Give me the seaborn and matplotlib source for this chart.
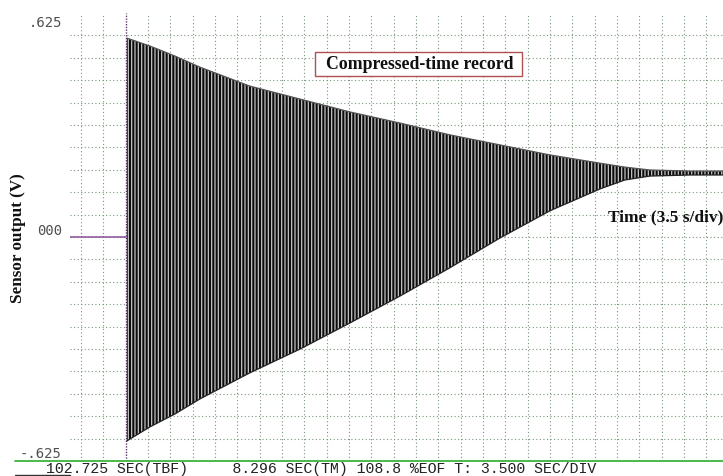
import matplotlib
matplotlib.use("Agg")
import matplotlib.pyplot as plt
from matplotlib.lines import Line2D
from matplotlib.patches import Rectangle
import numpy as np
import pandas as pd
import seaborn as sns

# Scope settings
SEC_PER_DIV = 3.5
VOLT_FULL = 0.625
VOLT_PER_DIV = 0.0625

# Envelope of the decaying oscillation (seconds after trigger, volts)
time_s = [0.16, 3.76, 7.68, 11.60, 19.44, 27.27, 35.11, 42.95, 50.78,
          58.62, 66.46, 74.30, 78.21, 82.13, 88.40, 93.57]
upper_v = [0.555, 0.533, 0.505, 0.474, 0.421, 0.385, 0.349, 0.318, 0.285,
           0.257, 0.229, 0.206, 0.195, 0.187, 0.184, 0.184]
lower_v = [-0.569, -0.530, -0.494, -0.452, -0.379, -0.313, -0.240, -0.165, -0.086,
           -0.003, 0.073, 0.134, 0.159, 0.170, 0.173, 0.173]

y_tick_labels = [".625", "000", "-.625"]
status_line = "102.725 SEC(TBF)     8.296 SEC(TM) 108.8 %EOF T: 3.500 SEC/DIV"

sns.set_style("white")
plt.rcParams["hatch.linewidth"] = 0.9

W, H = 723, 477
fig = plt.figure(figsize=(W / 100, H / 100), dpi=100)
ax = fig.add_axes([70 / W, 15 / H, 653 / W, 448 / H])

x_left = -2.5 * SEC_PER_DIV
x_right = x_left + 653 / 22.33 * SEC_PER_DIV
ax.set_xlim(x_left, x_right)
ax.set_ylim(-VOLT_FULL, VOLT_FULL)
ax.set_axis_off()

# dotted graticule
grid_kw = dict(color="#7a967a", lw=0.8, ls=(0, (1, 2.2)), zorder=1)
for k in range(-2, 27):
    if k != 0:
        ax.axvline(k * SEC_PER_DIV, **grid_kw)
for k in range(-9, 10):
    ax.axhline(k * VOLT_PER_DIV, **grid_kw)

# trigger markers
ax.plot([x_left, 0], [0, 0], color="#8a4f9a", lw=1.1, zorder=2)
ax.axvline(0, color="#5a3a6a", lw=1.0, ls=(0, (1, 1)), zorder=2)

# waveform body
df = pd.DataFrame({"t": time_s, "upper": upper_v, "lower": lower_v})
ax.fill_between(df["t"], df["lower"], df["upper"], facecolor="#0c0c0c",
                edgecolor="#c4c4c4", hatch="|||||", linewidth=0, zorder=3)
sns.lineplot(data=df, x="t", y="upper", color="#555555", lw=0.9, ax=ax, zorder=4)
sns.lineplot(data=df, x="t", y="lower", color="#222222", lw=0.9, ax=ax, zorder=4)
ax.set_axis_off()

# annotations
serif = ["Liberation Serif", "DejaVu Serif"]
cx = (420 - 126) / 22.33 * SEC_PER_DIV
ax.add_patch(Rectangle(((315 - 70) / 653, 1 - (77 - 14) / 448), 207 / 653, 24 / 448,
                       transform=ax.transAxes, facecolor="white",
                       edgecolor="#b05050", lw=1.0, zorder=5))
ax.text(cx, 0.483, "Compressed-time record", ha="center", va="center",
        fontsize=12.8, fontweight="bold", family=serif, color="#111111", zorder=6)
ax.text((608 - 126) / 22.33 * SEC_PER_DIV, 0.0586, "Time (3.5 s/div)",
        ha="left", va="center", fontsize=12.5, fontweight="bold", family=serif,
        color="#111111", zorder=6, clip_on=False)

fig.text(18 / W, 1 - 238 / H, "Sensor output (V)", rotation=90, ha="center",
         va="center", fontsize=12.3, fontweight="bold", family=serif, color="#111111")

mono_sans = ["DejaVu Sans Mono"]
for lab, py in zip(y_tick_labels, [23, 231, 454]):
    fig.text(62 / W, 1 - py / H, lab, ha="right", va="center", fontsize=10,
             family=mono_sans, color="#505050")

# status line under the screen
fig.add_artist(Line2D([15 / W, 1], [15 / H, 15 / H], color="#3cb43c", lw=1.3))
fig.add_artist(Line2D([15 / W, 70 / W], [1.2 / H, 1.2 / H], color="#333333", lw=1.0))
fig.text(46 / W, 8 / H, status_line, ha="left", va="center", fontsize=10.75,
         family=["Liberation Mono", "DejaVu Sans Mono"], color="#222222")

fig.savefig("out.png", dpi=100, facecolor="white")
